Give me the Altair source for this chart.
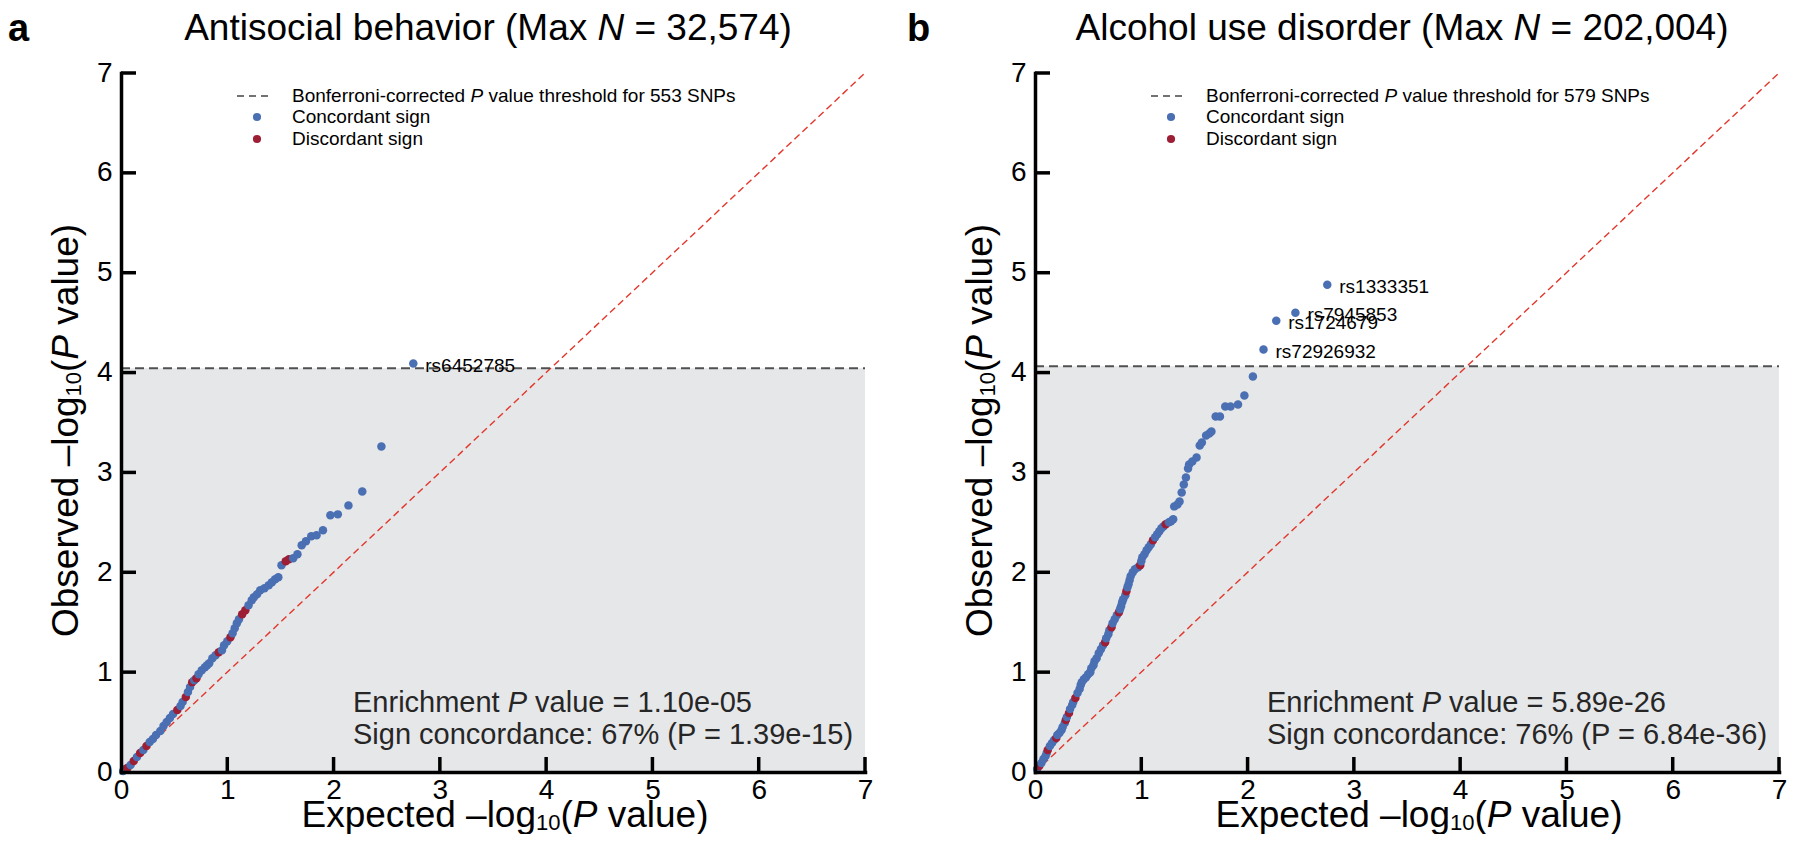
import altair as alt
import pandas as pd

# ---------------- data ----------------
A_X = [0.02, 0.04, 0.06, 0.09, 0.12, 0.15, 0.18, 0.21, 0.24, 0.27, 0.30, 0.33, 0.37, 0.40, 0.43,
       0.46, 0.49, 0.53, 0.56, 0.58, 0.61, 0.63, 0.65, 0.67, 0.69, 0.71, 0.73, 0.76, 0.79, 0.81,
       0.83, 0.86, 0.89, 0.92, 0.95, 0.97, 1.00, 1.03, 1.05, 1.07, 1.09, 1.11, 1.14, 1.17, 1.20,
       1.23, 1.25, 1.28, 1.31, 1.35, 1.39, 1.42, 1.45, 1.48, 1.51, 1.55, 1.58, 1.62, 1.66, 1.70,
       1.74, 1.79, 1.84, 1.90, 1.97, 2.04, 2.14, 2.27, 2.45, 2.75]
A_Y = [0.01, 0.03, 0.04, 0.07, 0.11, 0.15, 0.19, 0.22, 0.26, 0.30, 0.33, 0.37, 0.41, 0.46, 0.50,
       0.54, 0.58, 0.62, 0.66, 0.70, 0.75, 0.80, 0.85, 0.90, 0.92, 0.94, 0.98, 1.02, 1.05, 1.07,
       1.09, 1.14, 1.17, 1.20, 1.22, 1.27, 1.31, 1.35, 1.39, 1.44, 1.49, 1.53, 1.58, 1.62, 1.67,
       1.72, 1.75, 1.78, 1.82, 1.84, 1.87, 1.90, 1.93, 1.95, 2.07, 2.11, 2.13, 2.14, 2.18, 2.27,
       2.31, 2.36, 2.37, 2.42, 2.57, 2.58, 2.67, 2.81, 3.26, 4.09]
A_SIGN = ["C", "C", "D", "C", "D", "C", "D", "C", "D", "C", "C", "C", "C", "C", "C",
          "C", "C", "D", "C", "C", "D", "C", "C", "D", "C", "D", "C", "C", "C", "C",
          "C", "C", "C", "D", "C", "C", "C", "D", "C", "C", "C", "C", "D", "D", "C",
          "C", "C", "C", "C", "C", "C", "C", "C", "C", "C", "D", "D", "C", "C", "C",
          "C", "C", "C", "C", "C", "C", "C", "C", "C", "C"]
A_LAB_X = [2.75]
A_LAB_Y = [4.09]
A_LAB = ["rs6452785"]
A_THR = 4.044

B_X = [0.02, 0.04, 0.06, 0.08, 0.10, 0.11, 0.12, 0.14, 0.16, 0.18, 0.20, 0.21, 0.23, 0.25, 0.26,
       0.28, 0.29, 0.30, 0.32, 0.33, 0.35, 0.36, 0.38, 0.40, 0.42, 0.43, 0.44, 0.46, 0.48, 0.50,
       0.52, 0.53, 0.55, 0.56, 0.58, 0.60, 0.62, 0.64, 0.66, 0.67, 0.69, 0.70, 0.72, 0.73, 0.75,
       0.77, 0.79, 0.80, 0.81, 0.82, 0.83, 0.85, 0.86, 0.87, 0.88, 0.89, 0.90, 0.92, 0.94, 0.97,
       0.99, 1.00, 1.01, 1.03, 1.05, 1.07, 1.09, 1.11, 1.13, 1.15, 1.17, 1.19, 1.21, 1.23, 1.26,
       1.28, 1.30, 1.31, 1.34, 1.36, 1.38, 1.40, 1.42, 1.44, 1.45, 1.48, 1.52, 1.55, 1.57, 1.61,
       1.64, 1.66, 1.70, 1.74, 1.79, 1.84, 1.91, 1.97, 2.05, 2.15, 2.27, 2.45, 2.75]
B_Y = [0.03, 0.06, 0.09, 0.13, 0.16, 0.19, 0.22, 0.26, 0.29, 0.32, 0.34, 0.37, 0.39, 0.42, 0.45,
       0.49, 0.52, 0.55, 0.59, 0.63, 0.67, 0.70, 0.74, 0.79, 0.83, 0.87, 0.90, 0.93, 0.95, 0.98,
       1.00, 1.04, 1.07, 1.11, 1.14, 1.19, 1.23, 1.27, 1.30, 1.34, 1.38, 1.42, 1.45, 1.49, 1.53,
       1.57, 1.60, 1.63, 1.66, 1.70, 1.73, 1.77, 1.81, 1.85, 1.88, 1.92, 1.96, 2.00, 2.03, 2.05,
       2.07, 2.11, 2.15, 2.18, 2.22, 2.25, 2.28, 2.32, 2.35, 2.38, 2.41, 2.44, 2.46, 2.48, 2.50,
       2.51, 2.53, 2.66, 2.68, 2.71, 2.80, 2.88, 2.95, 3.04, 3.08, 3.11, 3.15, 3.27, 3.30, 3.37,
       3.39, 3.41, 3.56, 3.56, 3.66, 3.66, 3.68, 3.77, 3.96, 4.23, 4.52, 4.60, 4.88]
B_SIGN = ["C", "D", "C", "C", "C", "C", "D", "C", "C", "C", "D", "C", "C", "C", "C",
          "C", "D", "C", "D", "C", "C", "C", "D", "C", "C", "C", "C", "C", "C", "C",
          "C", "C", "C", "C", "C", "C", "C", "C", "D", "C", "C", "C", "D", "C", "C",
          "C", "D", "C", "C", "C", "C", "C", "D", "C", "C", "C", "C", "C", "C", "C",
          "D", "C", "C", "C", "C", "C", "C", "D", "C", "C", "C", "C", "C", "D", "C",
          "C", "C", "C", "C", "C", "C", "C", "C", "C", "C", "C", "C", "C", "C", "C",
          "C", "C", "C", "C", "C", "C", "C", "C", "C", "C", "C", "C", "C"]
B_LAB_X = [2.15, 2.27, 2.45, 2.75]
B_LAB_Y = [4.23, 4.52, 4.60, 4.88]
B_LAB = ["rs72926932", "rs1724679", "rs7945853", "rs1333351"]
B_THR = 4.064

AXIS_TICKS = [0, 1, 2, 3, 4, 5, 6, 7]
TICK_MARKS = [1, 2, 3, 4, 5, 6, 7]
DIAG = [0, 7]

# ---------------- styling ----------------
FONT = "Liberation Sans"
BLUE = "#4a6fb3"
RED = "#9c1f36"
SHADE = "#e6e7e9"
W, H = 744, 699

AW = {' ': 278, '!': 278, '%': 889, '(': 333, ')': 333, ',': 278, '-': 333, '.': 278, ':': 278,
      '=': 584, '–': 556, 'A': 667, 'B': 667, 'C': 722, 'D': 722, 'E': 667, 'F': 611, 'M': 833,
      'N': 722, 'O': 778, 'P': 667, 'S': 667, 'a': 556, 'b': 556, 'c': 500, 'd': 556, 'e': 556,
      'f': 278, 'g': 556, 'h': 556, 'i': 222, 'l': 222, 'm': 833, 'n': 556, 'o': 556, 'p': 556,
      'r': 333, 's': 500, 't': 278, 'u': 556, 'v': 500, 'x': 500, 'y': 500}


def tw(s, size):
    return sum(AW.get(ch, 556) for ch in s) * size / 1000.0


ONE = pd.DataFrame({"k": [0]})


def txt(s, x, y, size, style="normal", weight="normal", angle=0, fill="black",
        align="left", baseline="alphabetic"):
    kw = dict(text=s, font=FONT, fontSize=size, fontStyle=style, fontWeight=weight,
              fill=fill, align=align, baseline=baseline)
    if angle:
        kw["angle"] = angle
    return alt.Chart(ONE).mark_text(**kw).encode(x=alt.value(x), y=alt.value(y))


def h_pieces(parts, x0, y, fill="black", baseline="alphabetic"):
    out = []
    cx = x0
    for s, size, style, dy in parts:
        lead = len(s) - len(s.lstrip(" "))
        out.append(txt(s.strip(" "), cx + tw(" " * lead, size), y + dy, size,
                       style=style, fill=fill, baseline=baseline))
        cx += tw(s, size)
    return out


def v_pieces(parts, x, y0):
    out = []
    cy = y0
    for s, size, style, dy in parts:
        lead = len(s) - len(s.lstrip(" "))
        out.append(txt(s.strip(" "), x + dy, cy - tw(" " * lead, size), size,
                       style=style, angle=270))
        cy -= tw(s, size)
    return out


def total(parts):
    return sum(tw(s, size) for s, size, _, _ in parts)


def panel(xs, ys, signs, thr, lx, ly, lt, letter, letter_x, title_parts, nsnp, enrich, conc):
    xsc = alt.Scale(domain=[0, 7], nice=False, zero=False)
    ysc = alt.Scale(domain=[0, 7], nice=False, zero=False)
    xaxis = alt.Axis(values=AXIS_TICKS, format="d", ticks=False, grid=False, domainColor="black",
                     domainWidth=3.5, domainCap="square", labelFontSize=28, labelFont=FONT,
                     labelColor="black", labelPadding=4, labelFlush=False, labelOverlap=False,
                     zindex=1)
    yaxis = alt.Axis(values=AXIS_TICKS, format="d", ticks=False, grid=False, domainColor="black",
                     domainWidth=3.5, domainCap="square", labelFontSize=28, labelFont=FONT,
                     labelColor="black", labelPadding=9, labelFlush=False, labelOverlap=False,
                     zindex=1)

    shade = alt.Chart(pd.DataFrame({"x0": [0], "x1": [7], "y0": [0], "y1": [thr]})).mark_rect(
        color=SHADE).encode(
        x=alt.X("x0:Q", scale=xsc, axis=xaxis, title=None), x2="x1",
        y=alt.Y("y0:Q", scale=ysc, axis=yaxis, title=None), y2="y1")

    diag = alt.Chart(pd.DataFrame({"d0": [DIAG[0]], "d1": [DIAG[1]]})).mark_rule(
        color="#e2372c", strokeWidth=1.4, strokeDash=[7, 4]).encode(
        x=alt.X("d0:Q", title=None), y=alt.Y("d0:Q", title=None), x2="d1", y2="d1")

    thr_line = alt.Chart(pd.DataFrame({"x0": [0], "x1": [7], "t": [thr]})).mark_rule(
        color="#505050", strokeWidth=2, strokeDash=[9, 5]).encode(
        x=alt.X("x0:Q", title=None), x2="x1", y=alt.Y("t:Q", title=None))

    pts = alt.Chart(pd.DataFrame({"x": xs, "y": ys, "sign": signs})).mark_circle(
        size=72, opacity=1).encode(
        x=alt.X("x:Q", title=None), y=alt.Y("y:Q", title=None),
        color=alt.Color("sign:N", scale=alt.Scale(domain=["C", "D"], range=[BLUE, RED]),
                        legend=None))

    labs = alt.Chart(pd.DataFrame({"x": lx, "y": ly, "t": lt})).mark_text(
        align="left", baseline="middle", dx=12, dy=2, fontSize=19, font=FONT,
        color="black").encode(x=alt.X("x:Q", title=None), y=alt.Y("y:Q", title=None),
                              text="t:N")

    xt = alt.Chart(pd.DataFrame({"t": TICK_MARKS})).mark_rule(
        color="black", strokeWidth=3.5).encode(
        x=alt.X("t:Q", title=None), y=alt.value(H), y2=alt.value(H - 15))
    yt = alt.Chart(pd.DataFrame({"t": TICK_MARKS})).mark_rule(
        color="black", strokeWidth=3.5).encode(
        y=alt.Y("t:Q", title=None), x=alt.value(0), x2=alt.value(15))

    layers = [shade, diag, thr_line, pts, labs, xt, yt]

    # legend
    layers.append(alt.Chart(ONE).mark_rule(color="#444444", strokeWidth=1.6,
                                           strokeDash=[7, 5]).encode(
        x=alt.value(116), x2=alt.value(151), y=alt.value(23)))
    layers.append(alt.Chart(ONE).mark_circle(size=66, color=BLUE, opacity=1).encode(
        x=alt.value(136), y=alt.value(44)))
    layers.append(alt.Chart(ONE).mark_circle(size=66, color=RED, opacity=1).encode(
        x=alt.value(136), y=alt.value(66)))
    layers += h_pieces([("Bonferroni-corrected ", 19, "normal", 0), ("P", 19, "italic", 0),
                        (" value threshold for %d SNPs" % nsnp, 19, "normal", 0)],
                       171, 23, baseline="middle")
    layers.append(txt("Concordant sign", 171, 44, 19, baseline="middle"))
    layers.append(txt("Discordant sign", 171, 66, 19, baseline="middle"))

    # statistics
    layers += h_pieces([("Enrichment ", 29, "normal", 0), ("P", 29, "italic", 0),
                        (" value = " + enrich, 29, "normal", 0)], 232, H - 60, fill="#262626")
    layers.append(txt("Sign concordance: " + conc, 232, H - 28, 29, fill="#262626"))

    # title + panel letter
    tp = title_parts
    layers += h_pieces(tp, W / 2 - 5 - total(tp) / 2, -33)
    layers.append(txt(letter, letter_x, -32, 38, weight="bold"))

    # axis titles
    xparts = [("Expected –log", 37, "normal", 0), ("10", 22, "normal", 3), ("(", 37, "normal", 0),
              ("P", 37, "italic", 0), (" value)", 37, "normal", 0)]
    layers += h_pieces(xparts, W / 2 + 12 - total(xparts) / 2, H + 55)
    yparts = [("Observed –log", 37, "normal", 0), ("10", 22, "normal", 3), ("(", 37, "normal", 0),
              ("P", 37, "italic", 0), (" value)", 37, "normal", 0)]
    layers += v_pieces(yparts, -43, H / 2 + 8 + total(yparts) / 2)

    return alt.layer(*layers).properties(width=W, height=H)


pa = panel(A_X, A_Y, A_SIGN, A_THR, A_LAB_X, A_LAB_Y, A_LAB, "a", -113,
           [("Antisocial behavior (Max ", 37, "normal", 0), ("N", 37, "italic", 0),
            (" = 32,574)", 37, "normal", 0)],
           553, "1.10e-05", "67% (P = 1.39e-15)")
pb = panel(B_X, B_Y, B_SIGN, B_THR, B_LAB_X, B_LAB_Y, B_LAB, "b", -128,
           [("Alcohol use disorder (Max ", 37, "normal", 0), ("N", 37, "italic", 0),
            (" = 202,004)", 37, "normal", 0)],
           579, "5.89e-26", "76% (P = 6.84e-36)")

chart = alt.hconcat(pa, pb, spacing=170, bounds="flush").properties(
    padding={"left": 0, "right": 0, "top": 2, "bottom": 0}, background="white"
).configure_view(stroke=None)

chart.save("out.html", embed_options={"renderer": "svg", "actions": False})
